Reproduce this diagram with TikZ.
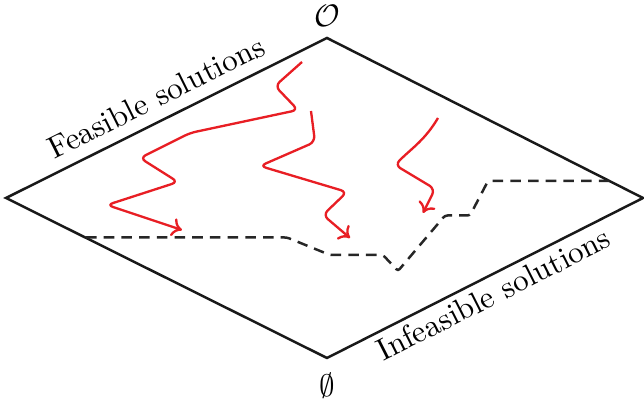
\documentclass[tikz,border=0pt]{standalone}
\usetikzlibrary{arrows.meta}
\definecolor{pathred}{RGB}{232,30,36}
\begin{document}
\begin{tikzpicture}[x=0.322pt,y=-0.322pt,
  edge/.style={line width=0.8pt, black!90, line join=miter},
  walk/.style={line width=0.75pt, pathred, rounded corners=2pt, -{To[length=3.2pt,width=6pt]}},
  front/.style={line width=0.8pt, black!85, dash pattern=on 3.4pt off 2.3pt, rounded corners=0.8pt},
  lbl/.style={font=\normalsize}]
\useasboundingbox (0,0) rectangle (644,404);
% vertices of the lattice
\coordinate (L) at (6,198);
\coordinate (T) at (327,38);
\coordinate (R) at (643,198);
\coordinate (B) at (327,358);
\draw[edge] (L) -- (T) -- (R) -- (B) -- cycle;
\node[lbl, above=0.3pt] (top) at (T) {$\mathcal{O}$};
\node[lbl, below=1.5pt] (bot) at (B) {$\emptyset$};
\path (L) -- (T) node[lbl, midway, sloped, above, inner sep=3.8pt] (feas) {Feasible solutions};
\path (B) -- (R) node[lbl, midway, sloped, below, inner sep=2pt] (infeas) {Infeasible solutions};
% frontier
\coordinate (f0) at (86,237.5);
\coordinate (f1) at (611,181);
\draw[front] (f0) -- (287,237.5) -- (330,255) -- (383,255) -- (398,271) -- (445,215.5) -- (470,215.5) -- (488,181) -- (f1);
% search walks
\draw[walk] (302,62) -- (275,86) -- (298,110) -- (190,133) -- (140,158) -- (178,182) -- (107,205) -- (182,230);
\draw[walk] (311,111) -- (315,142) -- (260,166) -- (347,192) -- (323,215) -- (350,238);
\draw[walk] (438,118) .. controls (425,140) and (412,148) .. (395,165) -- (435,189) -- (423,213);
\end{tikzpicture}
\end{document}
